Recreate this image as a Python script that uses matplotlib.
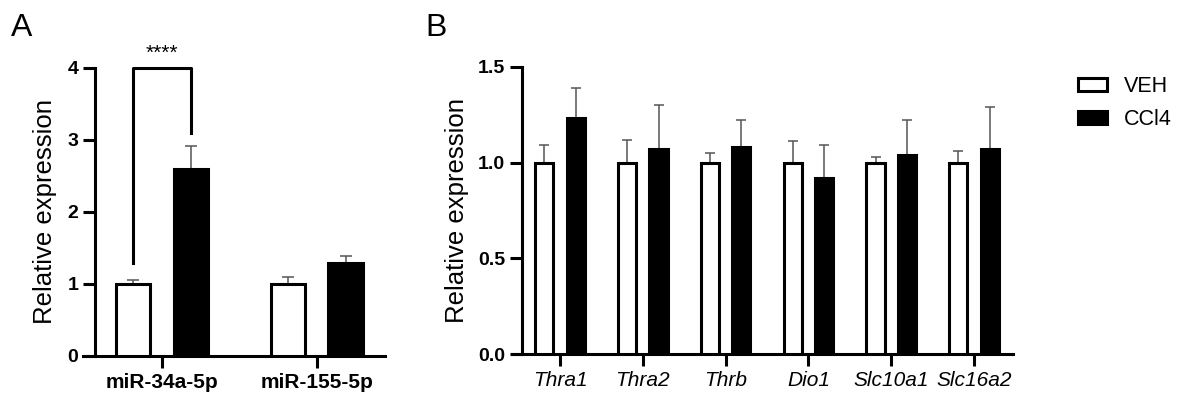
import matplotlib
matplotlib.use("Agg")
import matplotlib.pyplot as plt
from matplotlib.patches import Patch
import numpy as np

plt.rcParams['font.family'] = ['Liberation Sans', 'DejaVu Sans']

# ---- data, panel A ----
mirnas = ["miR-34a-5p", "miR-155-5p"]
mir_veh = [1.00, 1.00]
mir_veh_err = [0.06, 0.09]
mir_ccl4 = [2.60, 1.29]
mir_ccl4_err = [0.31, 0.10]

# ---- data, panel B ----
genes = ["Thra1", "Thra2", "Thrb", "Dio1", "Slc10a1", "Slc16a2"]
gene_veh = [1.00, 1.00, 1.00, 1.00, 1.00, 1.00]
gene_veh_err = [0.09, 0.12, 0.05, 0.11, 0.03, 0.06]
gene_ccl4 = [1.23, 1.07, 1.08, 0.92, 1.04, 1.07]
gene_ccl4_err = [0.16, 0.23, 0.14, 0.17, 0.18, 0.22]

legend_labels = ["VEH", "CCl4"]

W, H = 1183, 397
fig = plt.figure(figsize=(W / 100, H / 100), dpi=100)

LW = 2.2
ERR_COLOR = "#555555"


def style_axis(ax, left_spine_x):
    # spine.set_position resets the ticks, so do this first
    ax.spines["top"].set_visible(False)
    ax.spines["right"].set_visible(False)
    ax.spines["left"].set_position(("data", left_spine_x))
    ax.spines["left"].set_linewidth(LW)
    ax.spines["bottom"].set_linewidth(LW)
    ax.tick_params(axis="both", direction="out", length=8.5, width=LW)


def draw_bars(ax, x, veh, veh_err, ccl4, ccl4_err, off, w, capsize):
    ax.bar(x - off, veh, width=w, color="white", edgecolor="black",
           linewidth=LW, zorder=3)
    ax.bar(x + off, ccl4, width=w, color="black", edgecolor="black",
           linewidth=LW, zorder=3)
    ax.errorbar(x - off, veh, yerr=[np.zeros(len(x)), veh_err], fmt="none",
                ecolor=ERR_COLOR, elinewidth=1.1, capsize=capsize,
                capthick=1.1, zorder=2)
    ax.errorbar(x + off, ccl4, yerr=[np.zeros(len(x)), ccl4_err], fmt="none",
                ecolor=ERR_COLOR, elinewidth=1.1, capsize=capsize,
                capthick=1.1, zorder=2)


# ---------------- panel A ----------------
axA = fig.add_axes([83 / W, 1 - 356 / H, (385 - 83) / W, (356 - 67.7) / H])
style_axis(axA, -0.432)
xA = np.arange(len(mirnas))
draw_bars(axA, xA, mir_veh, mir_veh_err, mir_ccl4, mir_ccl4_err,
          off=0.185, w=0.22, capsize=4.5)
axA.set_xlim(-0.51, 1.44)
axA.set_ylim(0, 4)
axA.set_yticks([0, 1, 2, 3, 4])
axA.set_yticklabels(["0", "1", "2", "3", "4"], fontsize=14, fontweight="bold")
axA.set_xticks(xA)
axA.set_xticklabels(mirnas, fontsize=15, fontweight="bold")
axA.set_ylabel("Relative expression", fontsize=18.5)
axA.yaxis.set_label_coords(-0.127, 0.5)
axA.yaxis.label.set_va("center")

# significance bracket
axA.plot([-0.185, -0.185, 0.185, 0.185], [1.29, 4.0, 4.0, 3.09],
         color="black", lw=LW, clip_on=False, zorder=4)
axA.text(0.0, 4.2, "****", ha="center", va="center", fontsize=15)

# ---------------- panel B ----------------
axB = fig.add_axes([512 / W, 1 - 354.3 / H, (1013 - 512) / W, (354.3 - 66.7) / H])
style_axis(axB, -0.459)
xB = np.arange(len(genes))
draw_bars(axB, xB, gene_veh, gene_veh_err, gene_ccl4, gene_ccl4_err,
          off=0.19, w=0.22, capsize=3.5)
axB.set_xlim(-0.58, 5.47)
axB.set_ylim(0, 1.5)
axB.set_yticks([0.0, 0.5, 1.0, 1.5])
axB.set_yticklabels(["0.0", "0.5", "1.0", "1.5"], fontsize=14, fontweight="bold")
axB.set_xticks(xB)
axB.set_xticklabels(genes, fontsize=15, fontstyle="italic")
axB.set_ylabel("Relative expression", fontsize=18.5)
axB.yaxis.set_label_coords(-0.11, 0.5)
axB.yaxis.label.set_va("center")

# legend
handles = [Patch(facecolor="white", edgecolor="black", linewidth=LW),
           Patch(facecolor="black", edgecolor="black", linewidth=LW)]
fig.legend(handles, legend_labels, loc="upper left",
           bbox_to_anchor=(1078 / W, 1 - 76 / H), frameon=False,
           fontsize=15.5, handlelength=1.35, handleheight=0.55,
           labelspacing=0.57, handletextpad=0.8, borderpad=0,
           borderaxespad=0)

# panel letters
fig.text(11 / W, 1 - 13 / H, "A", fontsize=23, va="top", ha="left")
fig.text(425 / W, 1 - 13 / H, "B", fontsize=23, va="top", ha="left")

fig.savefig("out.png", dpi=100)
